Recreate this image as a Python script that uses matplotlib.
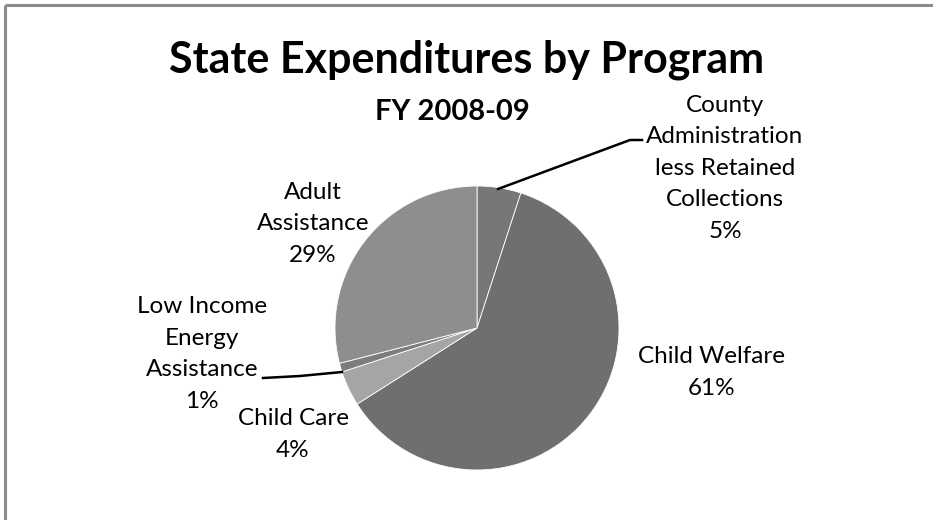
import matplotlib.pyplot as plt

plt.rcParams["font.family"] = ["Lato", "DejaVu Sans"]

# ====== 資料 ======
programs = [
    "County\nAdministration\nless Retained\nCollections",
    "Child Welfare",
    "Child Care",
    "Low Income\nEnergy\nAssistance",
    "Adult\nAssistance",
]
shares = [5, 61, 4, 1, 29]
colors = ["#777777", "#6f6f6f", "#a5a5a5", "#7d7d7d", "#8e8e8e"]

W, H = 933, 520
fig = plt.figure(figsize=(W / 100, H / 100), dpi=100)
ax = fig.add_axes([0, 0, 1, 1])

# pixel-like coordinates: y measured from top
def py(y):
    return H - y

cx, cy, r = 477, 328, 142
wedges, _ = ax.pie(shares, colors=colors, startangle=90, counterclock=False,
                   center=(cx, py(cy)), radius=r,
                   wedgeprops=dict(edgecolor="white", linewidth=0.6))
ax.set_xlim(0, W)
ax.set_ylim(0, H)
ax.set_aspect("equal")
ax.axis("off")

# 外框 (上、左)
ax.plot([5, W + 5], [py(5), py(5)], color="#8c8c8c", lw=2.2, solid_capstyle="butt")
ax.plot([5, 5], [py(5), -5], color="#8c8c8c", lw=2.2, solid_capstyle="butt")

ax.text(467, py(73), "State Expenditures by Program", ha="center",
        va="baseline", fontsize=31, fontweight="bold")
ax.text(452, py(120), "FY 2008-09", ha="center", va="baseline",
        fontsize=21, fontweight="bold")

# ====== 標籤 (y 為最後一行基線) ======
label_pos = [(725, 238), (712, 395), (293, 457), (202, 408), (313, 262)]
for name, pct, (lx, ly) in zip(programs, shares, label_pos):
    ax.text(lx, py(ly), f"{name}\n{pct}%", ha="center", va="baseline",
            fontsize=17.5, linespacing=1.62)

# 引線
ax.plot([498, 630, 642], [py(189), py(140), py(140)], color="black", lw=1.8)
ax.plot([342, 300, 263], [py(372), py(376), py(378)], color="black", lw=1.8)

fig.savefig("out.png", dpi=100, facecolor="white")
